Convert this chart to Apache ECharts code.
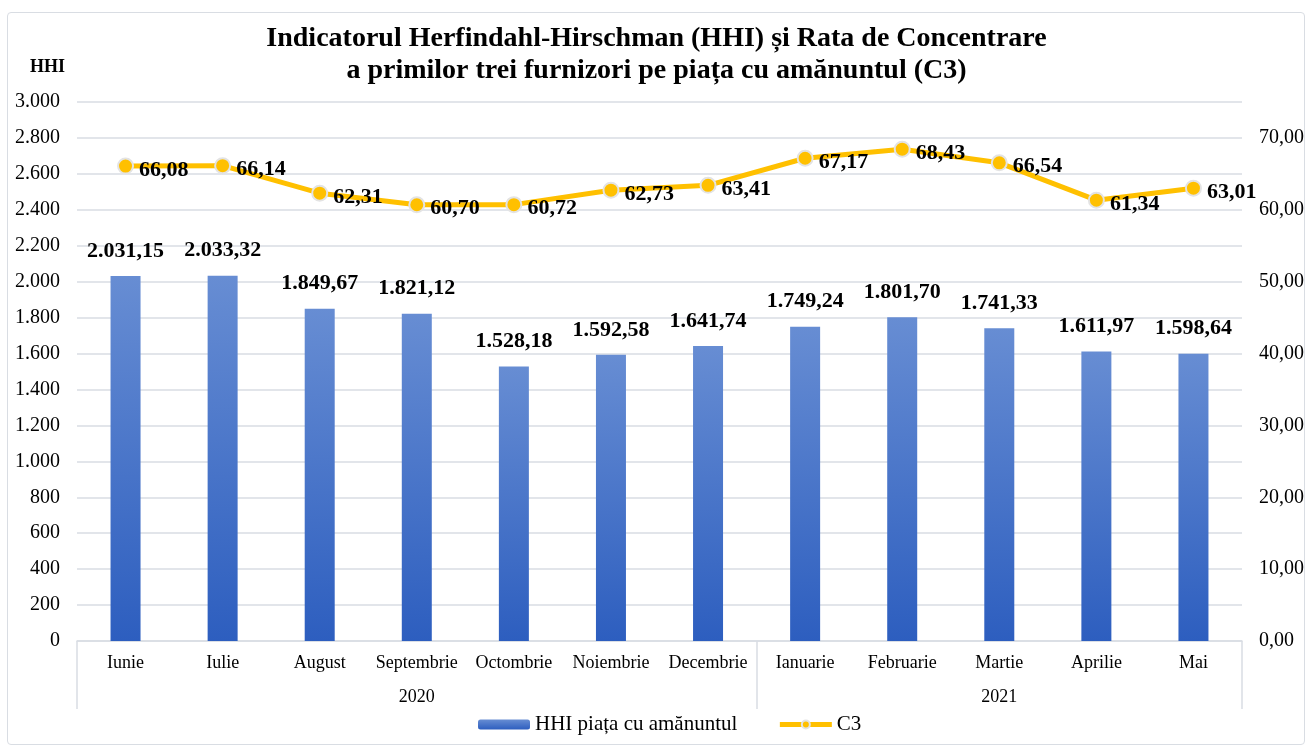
<!DOCTYPE html>
<html>
<head>
<meta charset="utf-8">
<script src="https://cdn.jsdelivr.net/npm/echarts@6/dist/echarts.min.js"></script>
<style>
  html, body { margin: 0; padding: 0; background: #fff; }
  #wrap { position: absolute; left: 7px; top: 12px; width: 1298px; height: 733px; border: 1px solid #d9dde3; border-radius: 4px; box-sizing: border-box; }
  #Combo { width: 1313px; height: 747px; }
</style>
</head>
<body>
<div id="wrap"></div>
<div id="Combo"></div>
<script>
// luni si ani
var months = ['Iunie', 'Iulie', 'August', 'Septembrie', 'Octombrie', 'Noiembrie', 'Decembrie',
    'Ianuarie', 'Februarie', 'Martie', 'Aprilie', 'Mai'];
var years = ['', '', '', '2020', '', '', '', '', '', '2021', '', ''];
var yearStart = [0, 7];   // indexul lunii unde incepe fiecare an

// valori HHI si C3
var hhiValues = [2031.15, 2033.32, 1849.67, 1821.12, 1528.18, 1592.58, 1641.74,
    1749.24, 1801.70, 1741.33, 1611.97, 1598.64];
var c3Values = [66.08, 66.14, 62.31, 60.70, 60.72, 62.73, 63.41,
    67.17, 68.43, 66.54, 61.34, 63.01];

var FONT = '"Liberation Serif", "Times New Roman", serif';

// format romanesc: 1.234,56
function roNumber(v, dec) {
    var parts = v.toFixed(dec).split('.');
    parts[0] = parts[0].replace(/\B(?=(\d{3})+(?!\d))/g, '.');
    return dec > 0 ? parts[0] + ',' + parts[1] : parts[0];
}

function ComboChart() {
    var myChart = echarts.init(document.getElementById('Combo'), null, { renderer: 'canvas' });
    var legendText = { fontFamily: FONT, fontSize: 21, color: '#000' };
    var option = {
        backgroundColor: 'transparent',
        textStyle: { fontFamily: FONT, color: '#000' },
        title: {
            text: 'Indicatorul Herfindahl-Hirschman (HHI) și Rata de Concentrare\na primilor trei furnizori pe piața cu amănuntul (C3)',
            left: 'center',
            top: 18,
            textStyle: { fontFamily: FONT, fontSize: 28, fontWeight: 'bold', color: '#000', lineHeight: 32 }
        },
        legend: {
            bottom: 7,
            left: 473,
            itemWidth: 52,
            itemHeight: 10,
            itemGap: 40,
            textStyle: legendText,
            data: [
                { name: 'HHI piața cu amănuntul', textStyle: legendText },
                { name: 'C3', lineStyle: { width: 5 }, textStyle: legendText }
            ]
        },
        grid: { left: 77, right: 71, top: 102, bottom: 106 },
        xAxis: [{
            type: 'category',
            data: months,
            axisLine: { lineStyle: { color: '#d9dde3', width: 1.5 } },
            axisTick: { show: false },
            axisLabel: { interval: 0, fontFamily: FONT, fontSize: 18, color: '#000', margin: 13 }
        }, {
            type: 'category',
            data: years,
            position: 'bottom',
            axisLine: { show: false },
            axisTick: {
                show: true,
                length: 68,
                interval: function (index) {
                    return yearStart.indexOf(index) >= 0;
                },
                lineStyle: { color: '#d9dde3', width: 1.5 }
            },
            axisLabel: { interval: 0, fontFamily: FONT, fontSize: 18, color: '#000', margin: 47 }
        }],
        yAxis: [{
            type: 'value',
            name: 'HHI',
            nameLocation: 'end',
            nameGap: 26,
            nameTextStyle: { fontFamily: FONT, fontSize: 18, fontWeight: 'bold', color: '#000', align: 'right', padding: [0, 12, 0, 0] },
            min: 0,
            max: 3000,
            interval: 200,
            axisLine: { show: false },
            axisTick: { show: false },
            splitLine: { lineStyle: { color: '#d9dde3', width: 1.5 } },
            axisLabel: {
                fontFamily: FONT, fontSize: 20, color: '#000', margin: 17,
                formatter: function (v) { return roNumber(v, 0); }
            }
        }, {
            type: 'value',
            min: 0,
            max: 75,
            interval: 10,
            axisLine: { show: false },
            axisTick: { show: false },
            splitLine: { show: false },
            axisLabel: {
                fontFamily: FONT, fontSize: 20, color: '#000', margin: 17,
                formatter: function (v) { return v > 70 ? '' : roNumber(v, 2); }
            }
        }],
        series: [{
            name: 'HHI piața cu amănuntul',
            type: 'bar',
            barWidth: 30,
            data: hhiValues,
            itemStyle: {
                color: new echarts.graphic.LinearGradient(0, 0, 0, 1, [
                    { offset: 0, color: '#678dd3' },
                    { offset: 1, color: '#2d5ebf' }
                ])
            },
            label: {
                show: true,
                position: 'top',
                distance: 14,
                fontFamily: FONT, fontSize: 22, fontWeight: 'bold', color: '#000',
                formatter: function (p) { return roNumber(p.value, 2); }
            }
        }, {
            name: 'C3',
            type: 'line',
            yAxisIndex: 1,
            data: c3Values,
            symbol: 'circle',
            symbolSize: 15,
            lineStyle: { color: '#ffc000', width: 5 },
            itemStyle: { color: '#ffc000', borderColor: '#e3e3e3', borderWidth: 2 },
            label: {
                show: true,
                position: 'right',
                distance: 5,
                offset: [0, 4],
                fontFamily: FONT, fontSize: 22, fontWeight: 'bold', color: '#000',
                formatter: function (p) { return roNumber(p.value, 2); }
            }
        }]
    };
    myChart.setOption(option);
}
ComboChart();
</script>
</body>
</html>
